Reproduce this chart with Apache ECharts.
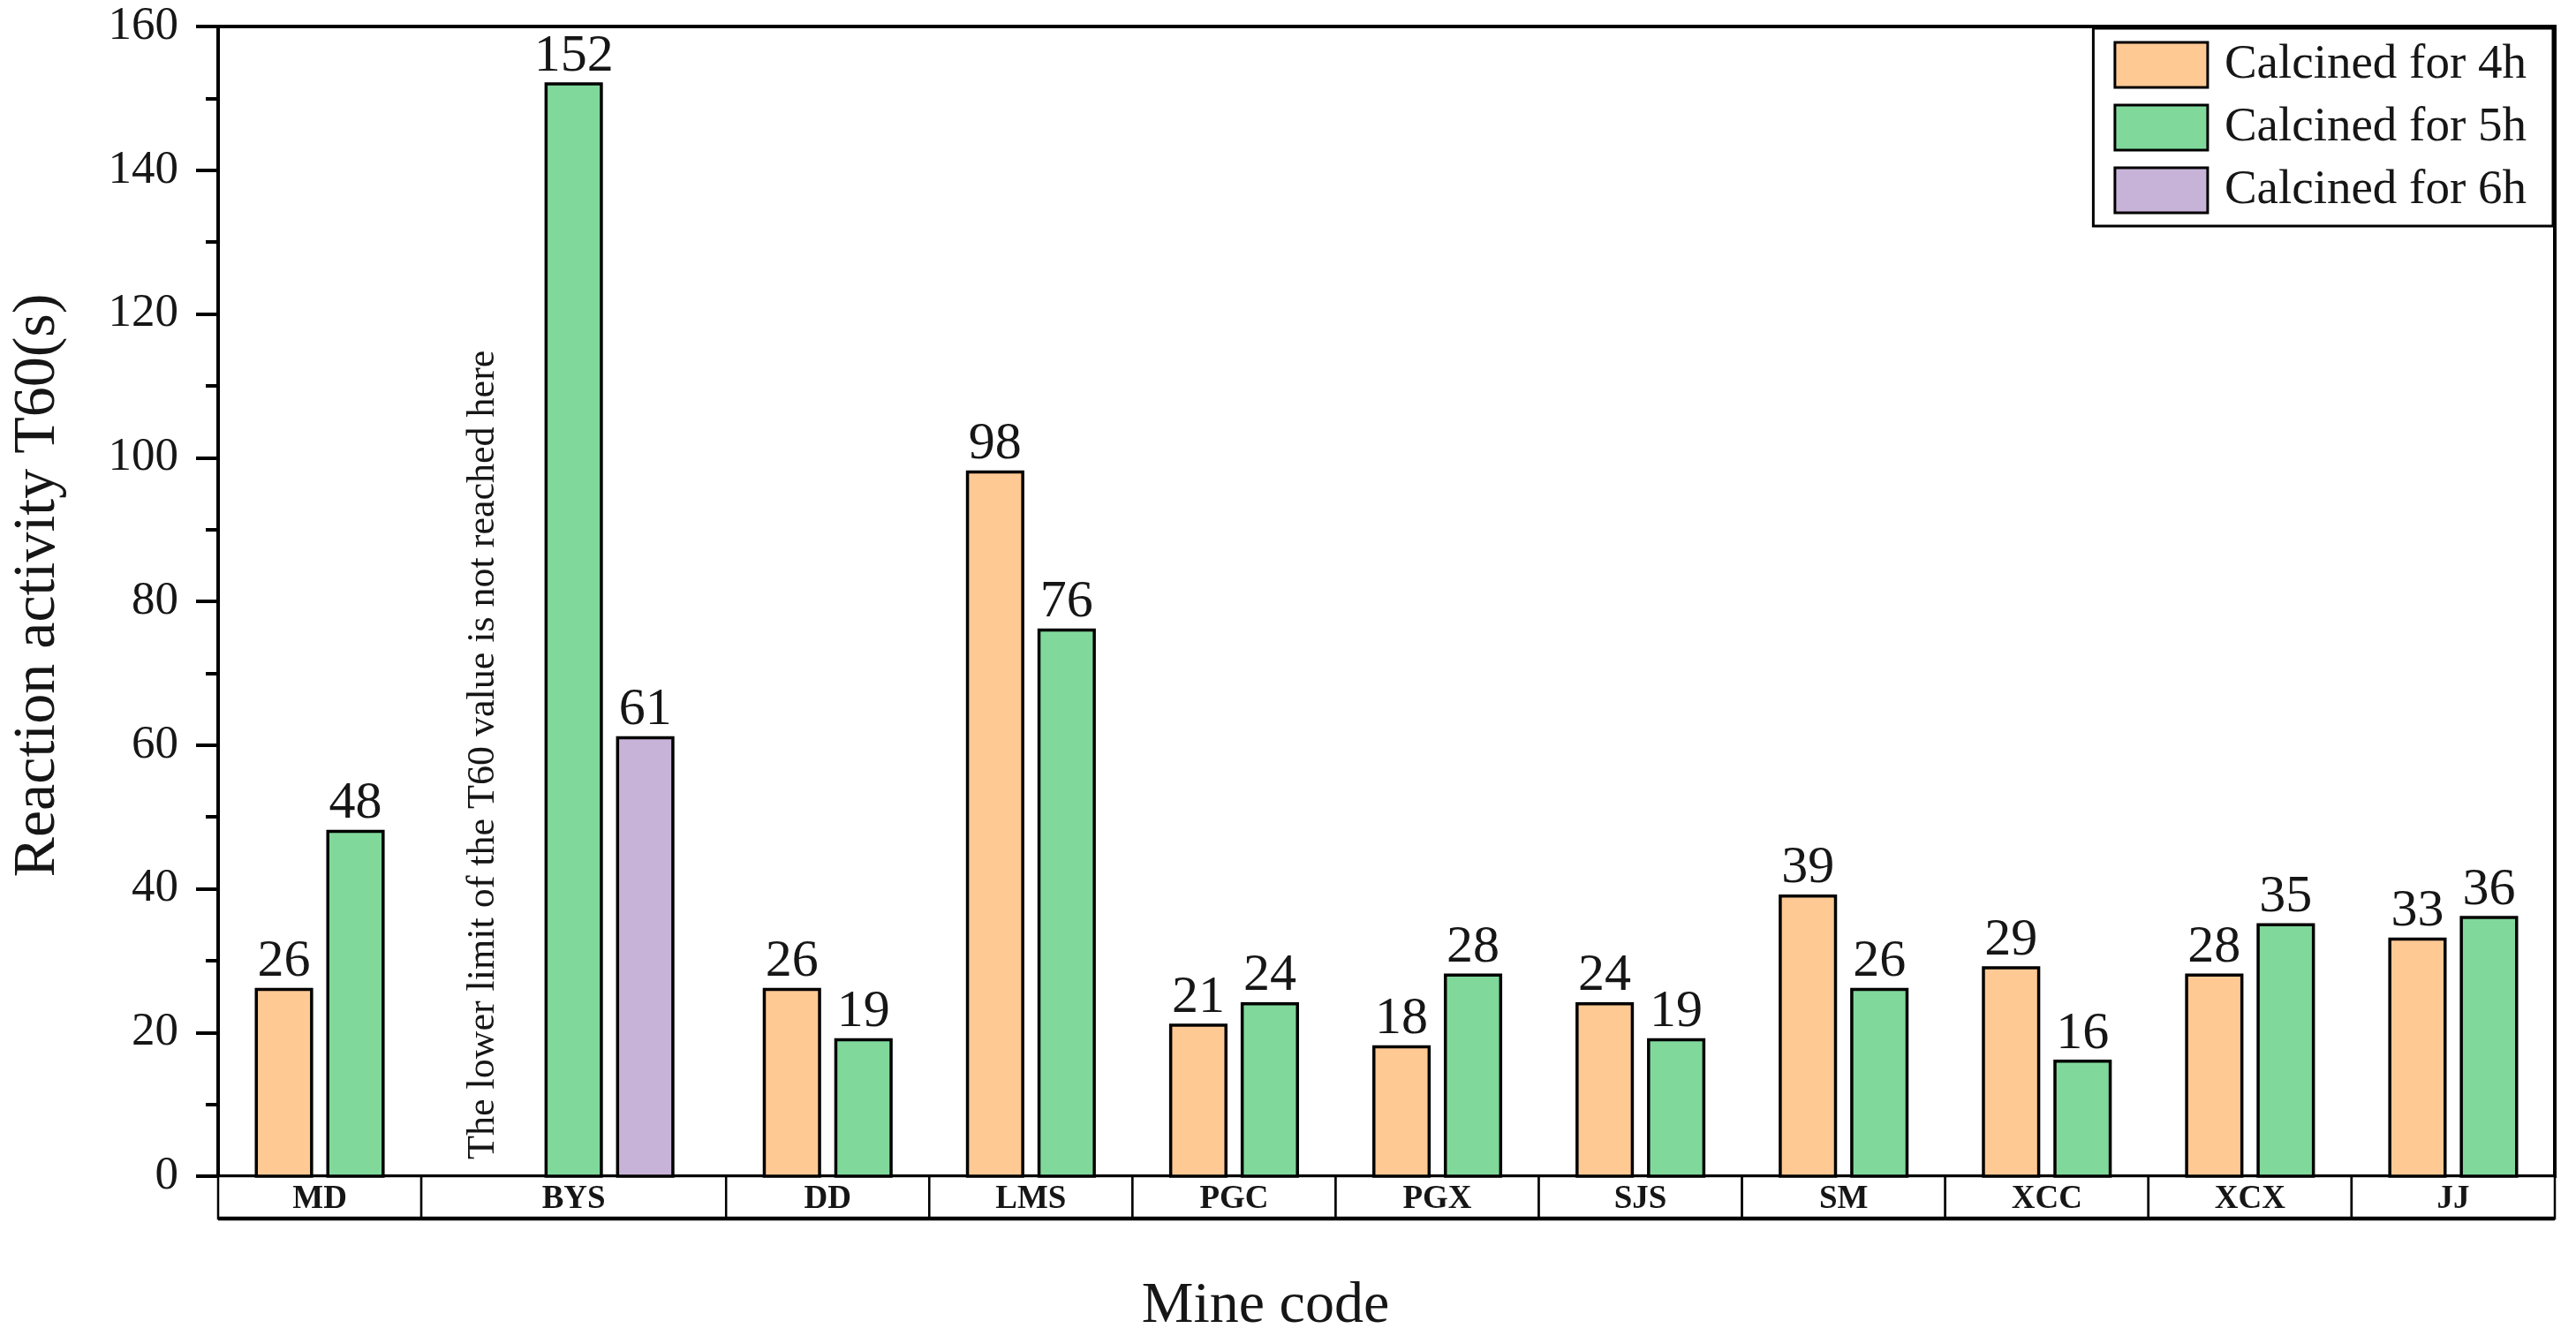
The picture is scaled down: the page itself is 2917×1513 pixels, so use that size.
<!DOCTYPE html>
<html><head><meta charset="utf-8">
<script src="https://cdn.jsdelivr.net/npm/echarts@6/dist/echarts.min.js"></script>
<style>html,body{margin:0;padding:0;background:#fff}#c{width:2917px;height:1513px}</style>
</head><body><div id="c"></div>
<script>
// ---- data ----
const categories = ['MD','BYS','DD','LMS','PGC','PGX','SJS','SM','XCC','XCX','JJ'];
const calc4h = [26, null, 26, 98, 21, 18, 24, 39, 29, 28, 33];
const calc5h = [48, 152, 19, 76, 24, 28, 19, 26, 16, 35, 36];
const calc6h = [null, 61, null, null, null, null, null, null, null, null, null];
const seriesNames = ['Calcined for 4h', 'Calcined for 5h', 'Calcined for 6h'];
const yMin = 0, yMax = 160, yStep = 20;
const yTitle = 'Reaction activity T60(s)';
const xTitle = 'Mine code';
const annotationText = 'The lower limit of the T60 value is not reached here';
const annotationCategory = 'BYS';

// ---- layout derived from data ----
const seriesVals = [calc4h, calc5h, calc6h];
const colors = ['#FFC994', '#80D99B', '#C8B3D8'];
const slotCount = categories.map((c, i) => calc6h[i] != null ? 3 : 2);
const catWidth = slotCount.map(s => s / 2);
const catStart = [];
let acc = 0;
catWidth.forEach(w => { catStart.push(acc); acc += w; });
const totalWidth = acc;
const BAR_STEP = 0.352, BAR_W = 0.272;
const FONT = '"Liberation Serif", "Times New Roman", serif';

function slotCenter(ci, s) {
  return catStart[ci] + catWidth[ci] / 2 + (s - (slotCount[ci] - 1) / 2) * BAR_STEP;
}

function barRender(s) {
  return function (params, api) {
    const ci = api.value(0), v = api.value(1);
    const xc = slotCenter(ci, s);
    const a = api.coord([xc - BAR_W / 2, v]);
    const b = api.coord([xc + BAR_W / 2, 0]);
    return {
      type: 'group', children: [
        { type: 'rect', shape: { x: a[0], y: a[1], width: b[0] - a[0], height: b[1] - a[1] },
          style: { fill: colors[s], stroke: '#000', lineWidth: 3.5 } },
        { type: 'text', x: (a[0] + b[0]) / 2, y: a[1] - 1,
          style: { text: String(v), font: '60px ' + FONT, fill: '#161616', textAlign: 'center', textVerticalAlign: 'bottom' } }
      ]
    };
  };
}

const barSeries = seriesVals.map((vals, s) => ({
  name: seriesNames[s],
  type: 'custom',
  renderItem: barRender(s),
  itemStyle: { color: colors[s], borderColor: '#000', borderWidth: 3 },
  data: vals.map((v, i) => v == null ? null : [i, v]).filter(d => d),
  clip: false,
  z: 3
}));

const tableSeries = {
  type: 'custom',
  silent: true,
  clip: false,
  z: 2,
  renderItem: function (params, api) {
    const ci = api.value(0);
    const p0 = api.coord([catStart[ci], 0]);
    const p1 = api.coord([catStart[ci] + catWidth[ci], 0]);
    const h = 48;
    return {
      type: 'group', children: [
        { type: 'rect', shape: { x: p0[0], y: p0[1], width: p1[0] - p0[0], height: h },
          style: { fill: '#fff', stroke: '#000', lineWidth: 2.5 } },
        { type: 'line', shape: { x1: p0[0], y1: p0[1] + h, x2: p1[0], y2: p0[1] + h },
          style: { stroke: '#000', lineWidth: 4.5 } },
        { type: 'text', x: (p0[0] + p1[0]) / 2, y: p0[1] + h / 2 + 2,
          style: { text: categories[ci], font: 'bold 37px ' + FONT, fill: '#161616', textAlign: 'center', textVerticalAlign: 'middle' } }
      ]
    };
  },
  data: categories.map((c, i) => [i, 0])
};

const annIdx = categories.indexOf(annotationCategory);
const annotationSeries = {
  type: 'custom',
  silent: true,
  clip: false,
  z: 3,
  renderItem: function (params, api) {
    const ci = api.value(0);
    const p = api.coord([slotCenter(ci, 0), 0]);
    return {
      type: 'text', x: p[0] - 21, y: p[1] - 19, rotation: Math.PI / 2,
      style: { text: annotationText, font: '44px ' + FONT, fill: '#161616', textAlign: 'left', textVerticalAlign: 'middle' }
    };
  },
  data: [[annIdx, 0]]
};

const chart = echarts.init(document.getElementById('c'), null, { renderer: 'canvas' });
chart.setOption({
  backgroundColor: '#fff',
  animation: false,
  grid: { left: 247, right: 24, top: 30, bottom: 181, show: true, borderColor: '#000', borderWidth: 4, backgroundColor: 'transparent' },
  xAxis: { type: 'value', min: 0, max: totalWidth, show: false },
  yAxis: {
    type: 'value', min: yMin, max: yMax, interval: yStep,
    axisLine: { show: true, lineStyle: { color: '#000', width: 4 } },
    axisTick: { show: true, inside: false, length: 25, lineStyle: { color: '#000', width: 4 } },
    minorTick: { show: true, splitNumber: 2, length: 14, lineStyle: { color: '#000', width: 4 } },
    splitLine: { show: false },
    axisLabel: { margin: 45, fontFamily: FONT, fontSize: 53, color: '#161616' }
  },
  legend: {
    orient: 'vertical', right: 26, top: 32, align: 'left',
    itemWidth: 105, itemHeight: 51, itemGap: 16,
    padding: [14, 30, 13, 23],
    borderColor: '#000', borderWidth: 3, backgroundColor: '#fff',
    selectedMode: false,
    icon: 'rect',
    textStyle: { fontFamily: FONT, fontSize: 55, color: '#161616', padding: [0, 0, 0, 14] },
    data: seriesNames.map((n, s) => ({ name: n, icon: 'rect', itemStyle: { color: colors[s], borderColor: '#000', borderWidth: 3 } }))
  },
  graphic: [
    { type: 'text', x: 43, y: 663, rotation: Math.PI / 2,
      style: { text: yTitle, font: '68px ' + FONT, fill: '#161616', textAlign: 'center', textVerticalAlign: 'middle' } },
    { type: 'text', x: 1433, y: 1480,
      style: { text: xTitle, font: '66px ' + FONT, fill: '#161616', textAlign: 'center', textVerticalAlign: 'middle' } }
  ],
  series: [tableSeries].concat(barSeries, [annotationSeries])
});
</script>
</body></html>
